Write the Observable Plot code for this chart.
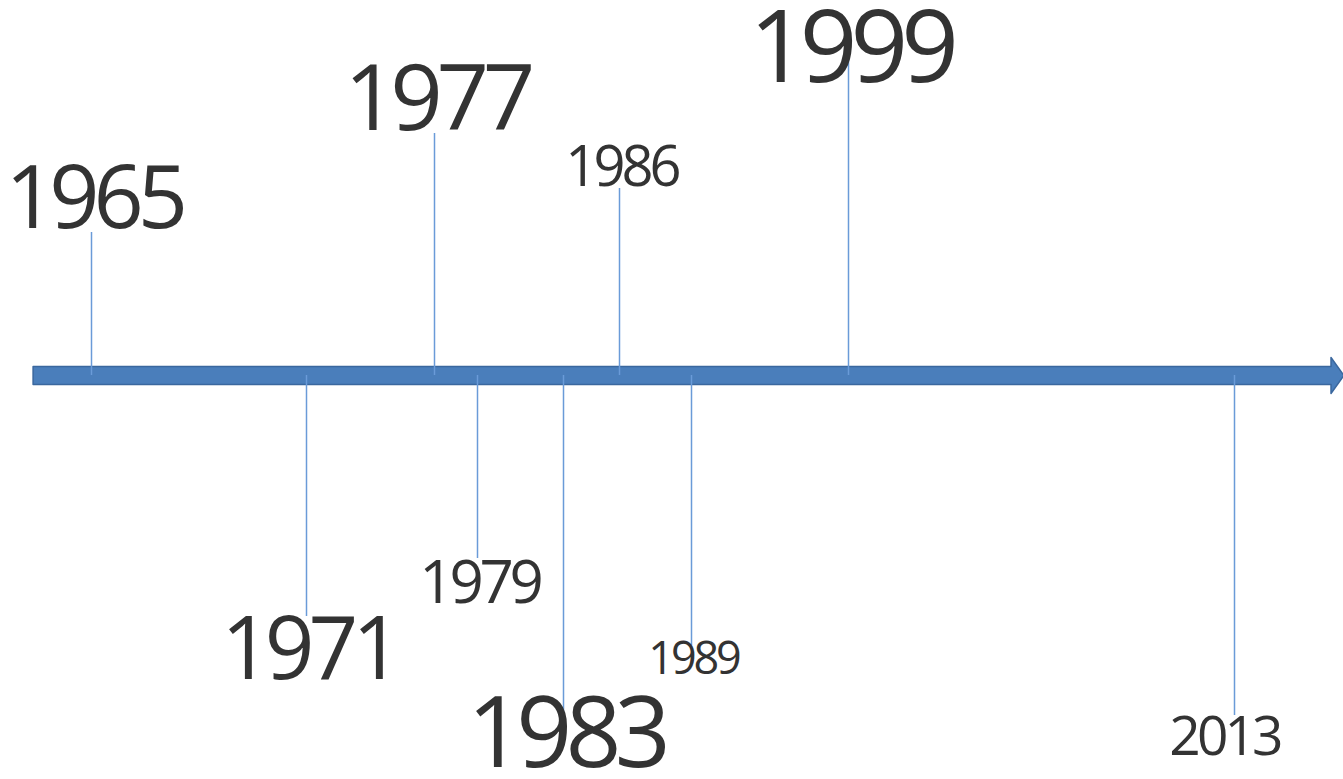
<!DOCTYPE html>
<html>
<head>
<meta charset="utf-8">
<script src="https://cdn.jsdelivr.net/npm/d3@7"></script>
<script src="https://cdn.jsdelivr.net/npm/@observablehq/plot@0.6"></script>
<style>
  html, body { margin: 0; padding: 0; background: #fff; }
  #chart svg { display: block; }
  #chart svg text { letter-spacing: -0.07em; }
</style>
</head>
<body>
<div id="chart"></div>
<script>
// ---- data ----
const years      = [1965, 1971, 1977, 1979, 1983, 1986, 1989, 1999, 2013];
const labels     = ["1965", "1971", "1977", "1979", "1983", "1986", "1989", "1999", "2013"];
// stem length (above + / below -) relative to the timeline
const stemLevel  = [143, -241, 242, -183, -340, 187, -270, 342, -340];
// label centre level and label importance (font size)
const labelLevel = [176, -276, 275, -208, -360, 207, -284, 326, -362];
const labelSize  = [88, 87, 92, 60, 98, 56, 45, 101, 55];
// timeline extent (in years on the piecewise axis)
const timelineStart = 1963.37;
const timelineBodyEnd = 2016.5;
const timelineTip = 2016.97;

// piecewise (non-uniform) layout of the years along the timeline
const xPos = d3.scaleLinear()
  .domain(years)
  .range([91, 306, 434, 477, 563, 619, 691, 848, 1234]);

const events = years.map((y, i) => ({
  year: y, label: labels[i], stem: stemLevel[i], ly: labelLevel[i], size: labelSize[i]
}));

const arrowShape = [
  {x: timelineStart, y: 9}, {x: timelineBodyEnd, y: 9}, {x: timelineBodyEnd, y: 18},
  {x: timelineTip, y: 0}, {x: timelineBodyEnd, y: -18}, {x: timelineBodyEnd, y: -9},
  {x: timelineStart, y: -9}, {x: timelineStart, y: 9}
];

const textOpts = {
  x: d => xPos(d.year), y: "ly", text: "label", fontSize: "size",
  fill: "#333333", lineAnchor: "middle", textAnchor: "middle"
};

const chart = Plot.plot({
  width: 1343,
  height: 779,
  margin: 0,
  style: {fontFamily: "'Open Sans', sans-serif", background: "#fff"},
  x: {type: "identity", axis: null},
  y: {domain: [375, -404], range: [0, 779], axis: null},
  marks: [
    Plot.line(arrowShape, {x: d => xPos(d.x), y: "y", fill: "#4a7ebb", stroke: "#3a679e", strokeWidth: 1.5, curve: "linear"}),
    Plot.ruleX(events, {x: d => xPos(d.year), y1: 0, y2: "stem", stroke: "#6a9bd8", strokeWidth: 1.5}),
    Plot.text(events.filter(d => d.label.startsWith("1")), {...textOpts, dx: 2}),
    Plot.text(events.filter(d => !d.label.startsWith("1")), {...textOpts, dx: -10})
  ]
});
document.getElementById("chart").appendChild(chart);
</script>
</body>
</html>
